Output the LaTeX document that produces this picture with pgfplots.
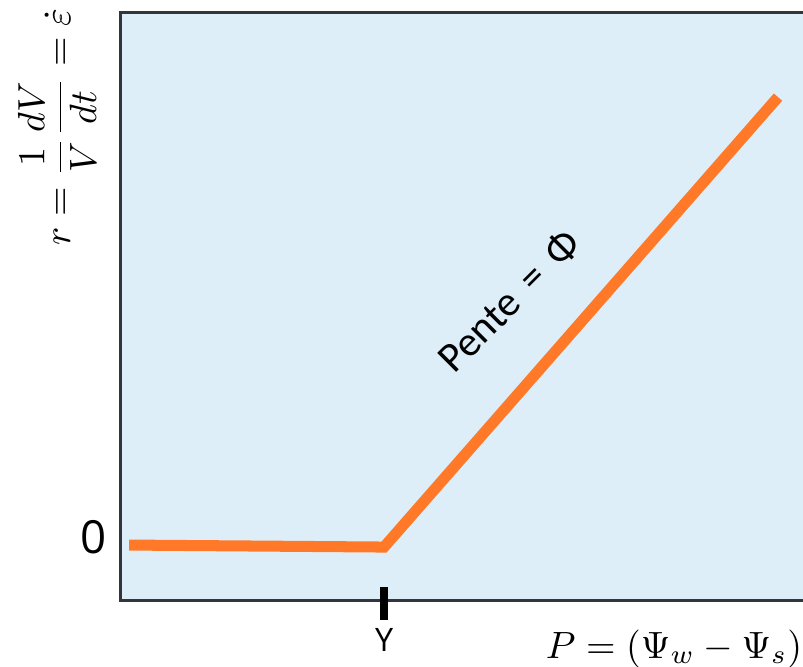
\documentclass[border=0pt]{standalone}
\usepackage{amsmath}
\usepackage{pgfplots}
\pgfplotsset{compat=1.18}
\usepackage{fontspec}
\newfontfamily\osans{Open Sans}
\newfontfamily\carlito{Carlito}
\definecolor{bgblue}{RGB}{222,238,248}
\definecolor{lineor}{RGB}{255,121,40}
\definecolor{axgray}{RGB}{50,54,60}

\begin{document}
\begin{tikzpicture}
\begin{axis}[name=ax, scale only axis, width=179.7pt, height=154.7pt,
  xmin=-264, xmax=419, ymin=-55, ymax=533,
  axis line style={draw=none}, tick style={draw=none},
  axis background/.style={fill=bgblue},
  xtick={0}, xticklabels={Y}, ytick={0}, yticklabels={0},
  xticklabel style={font=\osans\fontsize{8.5}{10}\selectfont, yshift=-4pt},
  yticklabel style={font=\osans\fontsize{12}{14}\selectfont, yshift=2.1pt},
  clip=false]
\addplot[lineor, line width=2.9pt] coordinates {(-255,0) (0,-2) (394,448)};
\draw[axgray, line width=0.8pt] (rel axis cs:1,1) -- (rel axis cs:0,1)
  -- (rel axis cs:0,0) -- (rel axis cs:1,0);
\draw[black, line width=2.1pt] ([yshift=3.4pt]axis cs:0,-55)
  -- ([yshift=-5.3pt]axis cs:0,-55);
\node[rotate=45, font=\carlito\fontsize{11}{13}\selectfont]
  at (axis cs:125,244) {Pente\hspace{0.15em} =\hspace{0.15em} Φ};
\node[rotate=90] at (rel axis cs:-0.0922,0.804)
  {$r=\dfrac{1}{V}\dfrac{dV}{dt}=\dot{\varepsilon}$};
\node[anchor=base east, inner sep=0pt] at (rel axis cs:1,-0.0986)
  {$P=(\Psi_w-\Psi_s)$};
\end{axis}
\pgfresetboundingbox
\path ([shift={(-31.6pt,-17.4pt)}]ax.south west)
  rectangle ([shift={(0pt,3.2pt)}]ax.north east);
\end{tikzpicture}
\end{document}
